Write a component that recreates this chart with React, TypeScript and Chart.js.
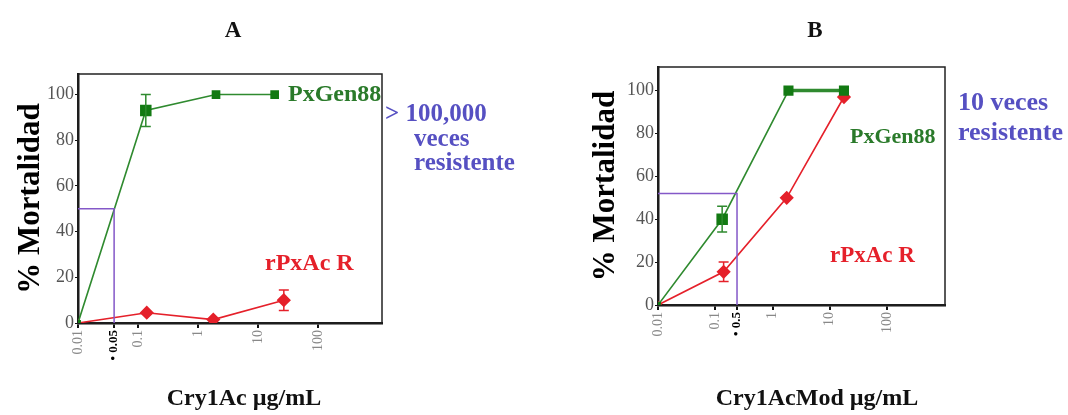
import React, { useEffect, useRef } from 'react';
import { Chart, registerables } from 'chart.js';

Chart.register(...registerables);

// ---------- DATA ----------
const mortalityTicks = [0, 20, 40, 60, 80, 100];

// Panel A
const doseTicksA = [0.01, 0.04, 0.1, 1, 10, 100];
const doseTickLabelsA = ['0.01', '• 0.05', '0.1', '1', '10', '100'];
const pxGen88DoseA = [0.01, 0.135, 2.0, 19];
const pxGen88MortA = [0, 93, 100, 100];
const pxGen88ErrA = [0, 7, 0, 0];
const rPxAcDoseA = [0.01, 0.14, 1.8, 27];
const rPxAcMortA = [0, 4.5, 1.5, 10];
const rPxAcErrA = [0, 0, 0, 4.5];
const lc50DoseA = [0.01, 0.04, 0.04];
const lc50MortA = [50, 50, 0];

// Panel B
const doseTicksB = [0.01, 0.1, 0.24, 1, 10, 100];
const doseTickLabelsB = ['0.01', '0.1', '• 0.5', '1', '10', '100'];
const pxGen88DoseB = [0.01, 0.132, 1.9, 17.7];
const pxGen88MortB = [0, 40, 100, 100];
const pxGen88ErrB = [0, 6, 0, 0];
const rPxAcDoseB = [0.01, 0.14, 1.77, 17.7];
const rPxAcMortB = [0, 15.5, 50, 97];
const rPxAcErrB = [0, 4.5, 0, 0];
const lc50DoseB = [0.01, 0.24, 0.24];
const lc50MortB = [52, 52, 0];

// ---------- STYLE ----------
const SERIF = "'Liberation Serif', 'DejaVu Serif', serif";
const GREEN_LINE = '#2f8a2f';
const GREEN_MARK = '#137a13';
const GREEN_TXT = '#2a7a2a';
const RED = '#e5202a';
const PURPLE = '#8458c8';
const BLUE_TXT = '#5650c2';

const toPts = (xs: number[], ys: number[]) => xs.map((x, i) => ({ x, y: ys[i] }));

const framePlugin = {
  id: 'frame',
  beforeDatasetsDraw(chart: any) {
    const { ctx, chartArea: a } = chart;
    ctx.save();
    ctx.strokeStyle = '#222';
    ctx.lineWidth = 1.5;
    ctx.strokeRect(a.left, a.top, a.right - a.left, a.bottom - a.top);
    ctx.restore();
  },
};

const errorBarPlugin = {
  id: 'errorBars',
  afterDatasetsDraw(chart: any) {
    const { ctx } = chart;
    const yScale = chart.scales.y;
    chart.data.datasets.forEach((ds: any, di: number) => {
      if (!ds.errors) return;
      const meta = chart.getDatasetMeta(di);
      ctx.save();
      ctx.strokeStyle = ds.borderColor;
      ctx.lineWidth = 1.5;
      meta.data.forEach((pt: any, i: number) => {
        const e = ds.errors[i];
        if (!e) return;
        const v = ds.data[i].y;
        const yTop = yScale.getPixelForValue(v + e);
        const yBot = yScale.getPixelForValue(v - e);
        ctx.beginPath();
        ctx.moveTo(pt.x, yTop);
        ctx.lineTo(pt.x, yBot);
        ctx.moveTo(pt.x - 5, yTop);
        ctx.lineTo(pt.x + 5, yTop);
        ctx.moveTo(pt.x - 5, yBot);
        ctx.lineTo(pt.x + 5, yBot);
        ctx.stroke();
      });
      ctx.restore();
    });
  },
};

const notesPlugin = {
  id: 'notes',
  afterDraw(chart: any, _args: any, opts: any) {
    const { ctx } = chart;
    (opts.items || []).forEach((n: any) => {
      ctx.save();
      ctx.font = `bold ${n.size}px ${SERIF}`;
      ctx.fillStyle = n.color;
      ctx.textBaseline = 'alphabetic';
      ctx.textAlign = n.align || 'left';
      ctx.fillText(n.text, n.x, n.y);
      ctx.restore();
    });
  },
};

type PanelProps = {
  left: number;
  width: number;
  tickValues: number[];
  tickLabels: string[];
  specialIndex: number;
  xMax: number;
  yMax: number;
  yScaleWidth: number;
  xScaleHeight: number;
  padRight: number;
  padTop: number;
  yTitlePad: number;
  greenDose: number[];
  greenMort: number[];
  greenErr: number[];
  redDose: number[];
  redMort: number[];
  redErr: number[];
  lcDose: number[];
  lcMort: number[];
  greenRadius: number[];
  redRadius: number[];
  greenPlateauWidth: number;
  notes: any[];
};

function Panel(p: PanelProps) {
  const ref = useRef<HTMLCanvasElement | null>(null);
  useEffect(() => {
    if (!ref.current) return;
    const chart = new Chart(ref.current, {
      type: 'line',
      data: {
        datasets: [
          {
            label: 'LC50',
            data: toPts(p.lcDose, p.lcMort),
            borderColor: PURPLE,
            borderWidth: 1.5,
            pointRadius: 0,
            fill: false,
            tension: 0,
          } as any,
          {
            label: 'PxGen88',
            data: toPts(p.greenDose, p.greenMort),
            borderColor: GREEN_LINE,
            backgroundColor: GREEN_MARK,
            pointBorderColor: GREEN_MARK,
            pointBackgroundColor: GREEN_MARK,
            borderWidth: 1.6,
            segment: {
              borderWidth: (c: any) =>
                c.p1DataIndex === p.greenDose.length - 1 ? p.greenPlateauWidth : 1.6,
            },
            pointStyle: 'rect',
            pointRadius: p.greenRadius,
            errors: p.greenErr,
            tension: 0,
          } as any,
          {
            label: 'rPxAc R',
            data: toPts(p.redDose, p.redMort),
            borderColor: RED,
            backgroundColor: RED,
            pointBorderColor: RED,
            pointBackgroundColor: RED,
            borderWidth: 1.6,
            pointStyle: 'rectRot',
            pointRadius: p.redRadius,
            errors: p.redErr,
            tension: 0,
          } as any,
        ],
      },
      options: {
        responsive: false,
        animation: false,
        devicePixelRatio: 1,
        layout: { padding: { left: 0, right: p.padRight, top: p.padTop, bottom: 0 } },
        plugins: {
          legend: { display: false },
          tooltip: { enabled: false },
          title: { display: false },
          notes: { items: p.notes },
        } as any,
        scales: {
          x: {
            type: 'logarithmic',
            min: 0.01,
            max: p.xMax,
            afterBuildTicks: (s: any) => {
              s.ticks = p.tickValues.map((v) => ({ value: v }));
            },
            afterFit: (s: any) => {
              s.height = p.xScaleHeight;
            },
            ticks: {
              autoSkip: false,
              minRotation: 90,
              maxRotation: 90,
              padding: 2,
              callback: (_v: any, i: number) => p.tickLabels[i],
              color: (c: any) => (c.index === p.specialIndex ? '#000' : '#888'),
              font: (c: any) =>
                c.index === p.specialIndex
                  ? { family: SERIF, size: 13, weight: 'bold' }
                  : { family: SERIF, size: 14 },
            },
            grid: {
              display: true,
              drawOnChartArea: false,
              drawTicks: true,
              tickLength: 5,
              tickColor: '#111',
              lineWidth: 2,
            },
            border: { display: true, color: '#111', width: 2.5 },
            title: { display: false },
          } as any,
          y: {
            type: 'linear',
            min: 0,
            max: p.yMax,
            afterBuildTicks: (s: any) => {
              s.ticks = mortalityTicks.map((v) => ({ value: v }));
            },
            afterFit: (s: any) => {
              s.width = p.yScaleWidth;
            },
            ticks: {
              color: '#555',
              padding: 1,
              font: { family: SERIF, size: 18 },
            },
            grid: {
              display: true,
              drawOnChartArea: false,
              drawTicks: true,
              tickLength: 3,
              tickColor: '#111',
            },
            border: { display: true, color: '#111', width: 2.5 },
            title: {
              display: true,
              text: '% Mortalidad',
              color: '#000',
              font: { family: SERIF, size: 31, weight: 'bold' },
              padding: { top: p.yTitlePad, bottom: 0 },
            },
          } as any,
        },
      },
      plugins: [framePlugin, errorBarPlugin, notesPlugin],
    } as any);
    return () => chart.destroy();
  }, []);
  return (
    <canvas
      ref={ref}
      width={p.width}
      height={415}
      style={{ position: 'absolute', left: p.left, top: 0, width: p.width, height: 415, display: 'block' }}
    />
  );
}

export default function App() {
  return (
    <div style={{ position: 'absolute', left: 0, top: 0, width: 1068, height: 415, background: '#fff', overflow: 'hidden' }}>
      <Panel
        left={0}
        width={560}
        tickValues={doseTicksA}
        tickLabels={doseTickLabelsA}
        specialIndex={1}
        xMax={1170}
        yMax={109}
        yScaleWidth={78}
        xScaleHeight={92}
        padRight={178}
        padTop={74}
        yTitlePad={12}
        greenDose={pxGen88DoseA}
        greenMort={pxGen88MortA}
        greenErr={pxGen88ErrA}
        redDose={rPxAcDoseA}
        redMort={rPxAcMortA}
        redErr={rPxAcErrA}
        lcDose={lc50DoseA}
        lcMort={lc50MortA}
        greenRadius={[3, 7, 5, 5]}
        redRadius={[3, 6, 6, 6]}
        greenPlateauWidth={1.6}
        notes={[
          { text: 'A', x: 233, y: 37, size: 23, color: '#111', align: 'center' },
          { text: 'Cry1Ac µg/mL', x: 244, y: 405, size: 24, color: '#111', align: 'center' },
          { text: 'PxGen88', x: 288, y: 101, size: 24, color: GREEN_TXT },
          { text: 'rPxAc R', x: 265, y: 270, size: 24, color: RED },
          { text: '> 100,000', x: 385, y: 121, size: 25, color: BLUE_TXT },
          { text: 'veces', x: 414, y: 146, size: 25, color: BLUE_TXT },
          { text: 'resistente', x: 414, y: 170, size: 25, color: BLUE_TXT },
        ]}
      />
      <Panel
        left={560}
        width={508}
        tickValues={doseTicksB}
        tickLabels={doseTickLabelsB}
        specialIndex={2}
        xMax={1030}
        yMax={111}
        yScaleWidth={98}
        xScaleHeight={110}
        padRight={123}
        padTop={67}
        yTitlePad={27}
        greenDose={pxGen88DoseB}
        greenMort={pxGen88MortB}
        greenErr={pxGen88ErrB}
        redDose={rPxAcDoseB}
        redMort={rPxAcMortB}
        redErr={rPxAcErrB}
        lcDose={lc50DoseB}
        lcMort={lc50MortB}
        greenRadius={[3, 7, 6, 6]}
        redRadius={[3, 6, 6, 6]}
        greenPlateauWidth={3.5}
        notes={[
          { text: 'B', x: 255, y: 37, size: 23, color: '#111', align: 'center' },
          { text: 'Cry1AcMod µg/mL', x: 257, y: 405, size: 24, color: '#111', align: 'center' },
          { text: 'PxGen88', x: 290, y: 143, size: 22, color: GREEN_TXT },
          { text: 'rPxAc R', x: 270, y: 262, size: 23, color: RED },
          { text: '10 veces', x: 398, y: 110, size: 26, color: BLUE_TXT },
          { text: 'resistente', x: 398, y: 140, size: 26, color: BLUE_TXT },
        ]}
      />
    </div>
  );
}
